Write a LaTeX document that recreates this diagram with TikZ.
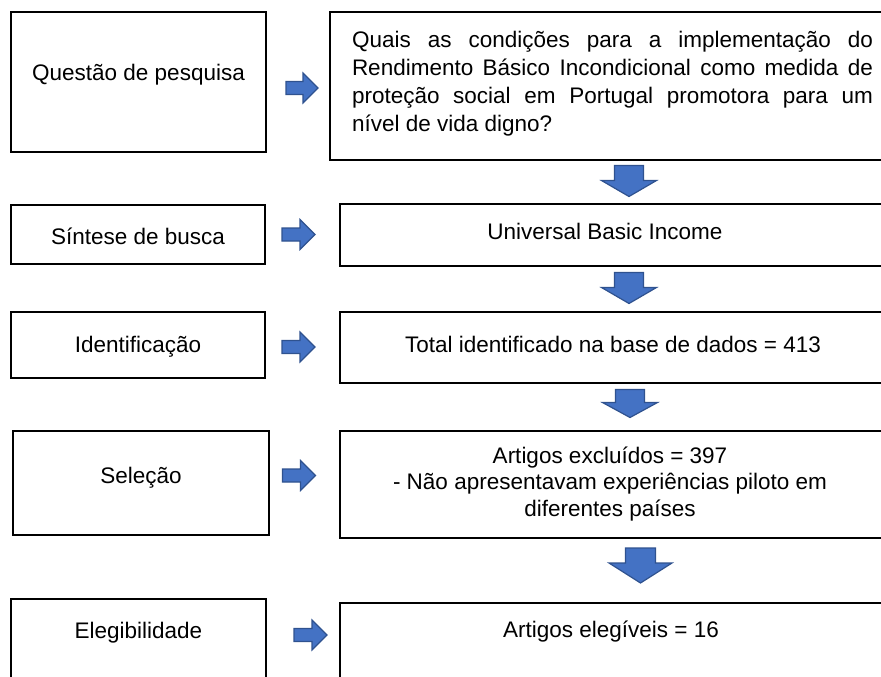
\documentclass[tikz,border=0pt]{standalone}
\usepackage{fontspec}
\setmainfont{Liberation Sans}
\usetikzlibrary{fit}
\definecolor{arrfill}{HTML}{4472C4}
\definecolor{arrline}{HTML}{2F528F}
\tikzset{
  box/.style={draw=black, line width=1.8pt, rectangle, inner sep=0pt, outer sep=0pt},
  txt/.style={inner sep=0pt, outer sep=0pt, font=\fontsize{22.5}{28}\selectfont},
  blockarrow/.style={fill=arrfill, draw=arrline, line width=1.2pt, line join=miter},
  pics/rarr/.style n args={4}{code={
    \path[blockarrow] ({-#1/2},{-#3/2}) -- ({#1/2-#4},{-#3/2}) -- ({#1/2-#4},{-#2/2})
      -- ({#1/2},0) -- ({#1/2-#4},{#2/2}) -- ({#1/2-#4},{#3/2}) -- ({-#1/2},{#3/2}) -- cycle;}},
  pics/darr/.style n args={4}{code={
    \path[blockarrow] ({-#3/2},{-#2/2}) -- ({#3/2},{-#2/2}) -- ({#3/2},{#2/2-#4})
      -- ({#1/2},{#2/2-#4}) -- (0,{#2/2}) -- ({-#1/2},{#2/2-#4}) -- ({-#3/2},{#2/2-#4}) -- cycle;}},
}
\begin{document}
\begin{tikzpicture}[x=1pt,y=-1pt]
\useasboundingbox (0,0) rectangle (881,677);
\clip (0,0) rectangle (881,677);

% left boxes
\node[box, fit={(11,12) (266,152)}] (qL) {};
\node[box, fit={(11,205) (265,264)}] (sL) {};
\node[box, fit={(11,312) (265,378)}] (iL) {};
\node[box, fit={(13,431) (269,535)}] (seL) {};
\node[box, fit={(11,599) (266,700)}] (eL) {};

% right boxes
\node[box, fit={(330,12) (895,160)}] (qR) {};
\node[box, fit={(340,204) (884,266)}] (sR) {};
\node[box, fit={(340,312) (884,383)}] (iR) {};
\node[box, fit={(340,431) (884,538)}] (seR) {};
\node[box, fit={(340,603) (884,700)}] (eR) {};

% left texts
\node[txt, anchor=base] (qLt) at (138.5,81) {Questão de pesquisa};
\node[txt, anchor=base] (sLt) at (138,244) {Síntese de busca};
\node[txt, anchor=base] (iLt) at (138,352) {Identificação};
\node[txt, anchor=base] (seLt) at (141,483) {Seleção};
\node[txt, anchor=base] (eLt) at (138.5,638) {Elegibilidade};

% right texts
\node[txt, align=left, anchor=north west] (qRt) at (352,27.4)
  {\strut\makebox[521pt][s]{Quais as condições para a implementação do}\\
   \makebox[521pt][s]{Rendimento Básico Incondicional como medida de}\\
   \makebox[521pt][s]{proteção social em Portugal promotora para um}\\
   nível de vida digno?};
\node[txt, anchor=base] (sRt) at (605,239) {Universal Basic Income};
\node[txt, anchor=base] (iRt) at (613,352) {Total identificado na base de dados = 413};
\node[txt, align=center, anchor=north, font=\fontsize{22.5}{26.5}\selectfont] (seRt) at (610,444.45)
  {\strut Artigos excluídos = 397\\- Não apresentavam experiências piloto em\\diferentes países};
\node[txt, anchor=base] (eRt) at (611,637) {Artigos elegíveis = 16};

% right-pointing block arrows
\pic (ar1) at (302,88) {rarr={32}{30}{13}{15}};
\pic (ar2) at (298.5,234.5) {rarr={33}{30}{13}{15}};
\pic (ar3) at (298.5,347) {rarr={33}{30}{13}{15}};
\pic (ar4) at (299,475.5) {rarr={33}{30}{13}{15}};
\pic (ar5) at (310.5,635) {rarr={33}{30}{13}{15}};

% down-pointing block arrows
\pic (ad1) at (629,181) {darr={55}{31}{29}{16}};
\pic (ad2) at (629,288) {darr={55}{31}{29}{16}};
\pic (ad3) at (630,403.5) {darr={55}{28}{29}{15}};
\pic (ad4) at (640.5,565.5) {darr={63}{35}{30}{20}};
\end{tikzpicture}
\end{document}
